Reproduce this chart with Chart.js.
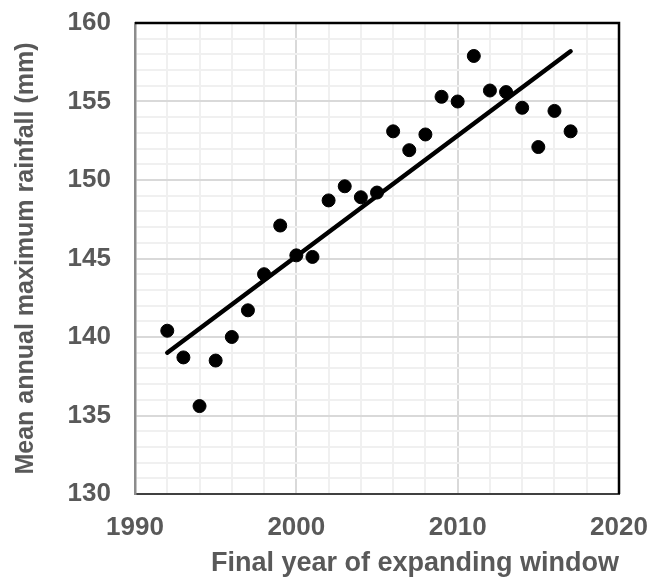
<!DOCTYPE html>
<html>
<head>
<meta charset="utf-8">
<script src="https://cdn.jsdelivr.net/npm/chart.js@4"></script>
<style>
  html, body { margin: 0; padding: 0; background: #fff; }
  #wrap { width: 651px; height: 581px; }
</style>
</head>
<body>
<div id="wrap"><canvas id="chart" width="651" height="581"></canvas></div>
<script>
// data
const years = [1992, 1993, 1994, 1995, 1996, 1997, 1998, 1999, 2000, 2001, 2002, 2003, 2004,
  2005, 2006, 2007, 2008, 2009, 2010, 2011, 2012, 2013, 2014, 2015, 2016, 2017];
const rainfall = [140.4, 138.7, 135.6, 138.5, 140.0, 141.7, 144.0, 147.1, 145.2, 145.1, 148.7, 149.6, 148.9,
  149.2, 153.1, 151.9, 152.9, 155.3, 155.0, 157.9, 155.7, 155.6, 154.6, 152.1, 154.4, 153.1];
const trendYears = [1992, 2017];
const trendValues = [139.0, 158.2];

const xTitle = 'Final year of expanding window';
const yTitle = 'Mean annual maximum rainfall (mm)';

const FONT = "'Liberation Sans', Arial, sans-serif";
const GREY = '#595959';

// top + right frame of the plot area
const frame = {
  id: 'frame',
  afterDraw(chart) {
    const { ctx, chartArea: a } = chart;
    ctx.save();
    ctx.strokeStyle = '#000';
    ctx.lineWidth = 2.5;
    ctx.beginPath();
    ctx.moveTo(a.left, a.top);
    ctx.lineTo(a.right, a.top);
    ctx.lineTo(a.right, a.bottom);
    ctx.stroke();
    ctx.restore();
  }
};

const grid = major => ctx => (ctx.tick && ctx.tick.value % major === 0) ? '#d9d9d9' : '#f0f0f0';

new Chart(document.getElementById('chart'), {
  type: 'scatter',
  data: {
    datasets: [
      {
        label: 'rainfall',
        data: years.map((y, i) => ({ x: y, y: rainfall[i] })),
        backgroundColor: '#000',
        borderColor: '#000',
        pointRadius: 6.5,
        pointHoverRadius: 6.5,
        order: 1
      },
      {
        label: 'trend',
        type: 'line',
        data: trendYears.map((y, i) => ({ x: y, y: trendValues[i] })),
        borderColor: '#000',
        borderWidth: 4.5,
        borderCapStyle: 'round',
        pointRadius: 0,
        fill: false,
        order: 2
      }
    ]
  },
  options: {
    responsive: false,
    animation: false,
    layout: { padding: { left: 2, right: 32, top: 23, bottom: 0 } },
    plugins: { legend: { display: false }, tooltip: { enabled: false } },
    scales: {
      x: {
        type: 'linear',
        min: 1990,
        max: 2020,
        afterFit(s) { s.height = 87; s.paddingLeft = 0; s.paddingRight = 0; },
        ticks: {
          stepSize: 2,
          autoSkip: false,
          maxRotation: 0,
          padding: 18,
          color: GREY,
          font: { family: FONT, size: 26, weight: 'bold' },
          callback: v => (v % 10 === 0 ? String(v) : '')
        },
        grid: { color: grid(10), lineWidth: 2, drawTicks: false },
        border: { color: '#404040', width: 2 },
        title: {
          display: true,
          text: xTitle,
          align: 'end',
          color: GREY,
          font: { family: FONT, size: 27, weight: 'bold' },
          padding: { top: 0, bottom: 1 }
        }
      },
      y: {
        min: 130,
        max: 160,
        afterFit(s) { s.width = 133; s.paddingTop = 0; s.paddingBottom = 0; },
        ticks: {
          stepSize: 1,
          autoSkip: false,
          padding: 24,
          color: GREY,
          font: { family: FONT, size: 26, weight: 'bold' },
          callback: v => (v % 5 === 0 ? String(v) : '')
        },
        grid: { color: grid(5), lineWidth: 2, drawTicks: false },
        border: { color: '#8c8c8c', width: 2.5 },
        title: {
          display: true,
          text: yTitle,
          color: GREY,
          font: { family: FONT, size: 25, weight: 'bold' },
          padding: { top: 9, bottom: 0 }
        }
      }
    }
  },
  plugins: [frame]
});
</script>
</body>
</html>
